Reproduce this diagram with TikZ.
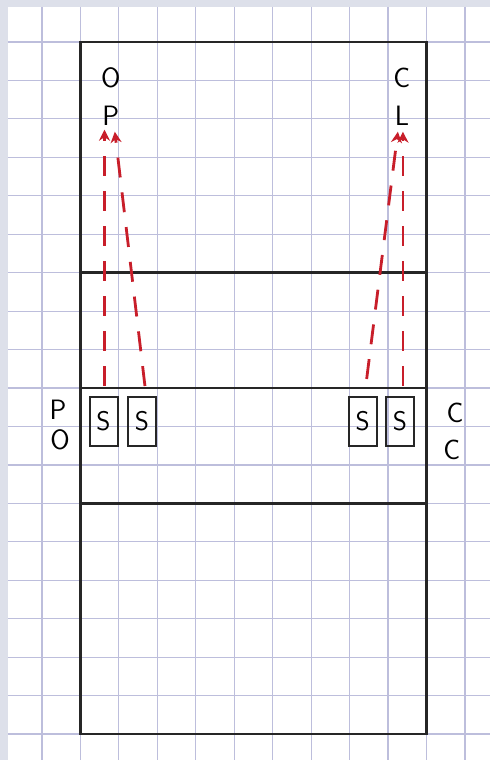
\documentclass[tikz,border=0pt]{standalone}
\usepackage{tikz}
\usetikzlibrary{arrows.meta,positioning}

\definecolor{paperedge}{HTML}{DDE0EA}
\definecolor{gridblue}{HTML}{BDBEDC}
\definecolor{penred}{HTML}{C81E2A}

\begin{document}
\begin{tikzpicture}[
      x=38.45pt, y=-38.45pt,
      gridline/.style={draw=gridblue, line width=1.2pt},
      pen/.style={draw=black!85, line width=2.4pt},
      lbl/.style={font=\sffamily\fontsize{28}{28}\selectfont, inner sep=0pt},
      sbox/.style={draw=black!85, line width=2pt, minimum width=28pt,
                   minimum height=49pt, inner sep=0pt,
                   font=\sffamily\fontsize{27}{27}\selectfont},
      pass/.style={draw=penred, line width=2.8pt, dash pattern=on 20pt off 15pt,
                   -{Stealth[length=11pt, width=11pt]}}]
    % paper and grid
    \useasboundingbox (-1.092,-1.092) rectangle (11.652,18.674);
    \fill[paperedge] (-1.092,-1.092) rectangle (11.652,18.674);
    \fill[white] (-0.884,-0.91) rectangle (11.652,18.674);
    \foreach \i in {0,...,11}
      \draw[gridline] (\i,-0.91) -- (\i,18.674);
    \foreach \j in {0,...,18}
      \draw[gridline] (-0.884,\j) -- (11.652,\j);
    % court
    \draw[pen] (1,0) rectangle (10,18);
    \draw[pen] (1,6) -- (10,6);
    \draw[pen] (1,9) -- (10,9);
    \draw[pen] (1,12) -- (10,12);
    % labels
    \node[lbl] (opO) at (1.79,0.94) {O};
    \node[lbl] (opP) at (1.79,1.92) {P};
    \node[lbl] (clC) at (9.36,0.94) {C};
    \node[lbl] (clL) at (9.36,1.92) {L};
    \node[lbl] (poP) at (0.42,9.57) {P};
    \node[lbl] (poO) at (0.47,10.35) {O};
    \node[lbl] (ccC) at (10.74,9.65) {C};
    \node[lbl] (ccD) at (10.66,10.61) {C};
    % players
    \node[sbox] (s1) at (1.6,9.87) {S};
    \node[sbox] (s2) at (2.6,9.87) {S};
    \node[sbox] (s3) at (8.34,9.87) {S};
    \node[sbox] (s4) at (9.31,9.87) {S};
    % runs
    \draw[pass] ([xshift=1pt, yshift=10pt]s1.north) -- ([xshift=1pt, yshift=-4pt]s1.north |- opP.south);
    \draw[pass] ([xshift=3pt, yshift=10pt]s2.north) -- ([xshift=4pt, yshift=-6pt]opP.south);
    \draw[pass] ([xshift=4pt, yshift=17pt]s3.north) -- ([xshift=-4pt, yshift=-6pt]clL.south);
    \draw[pass] ([xshift=3pt, yshift=10pt]s4.north) -- ([xshift=3pt, yshift=-6pt]s4.north |- clL.south);
  \end{tikzpicture}
\end{document}
